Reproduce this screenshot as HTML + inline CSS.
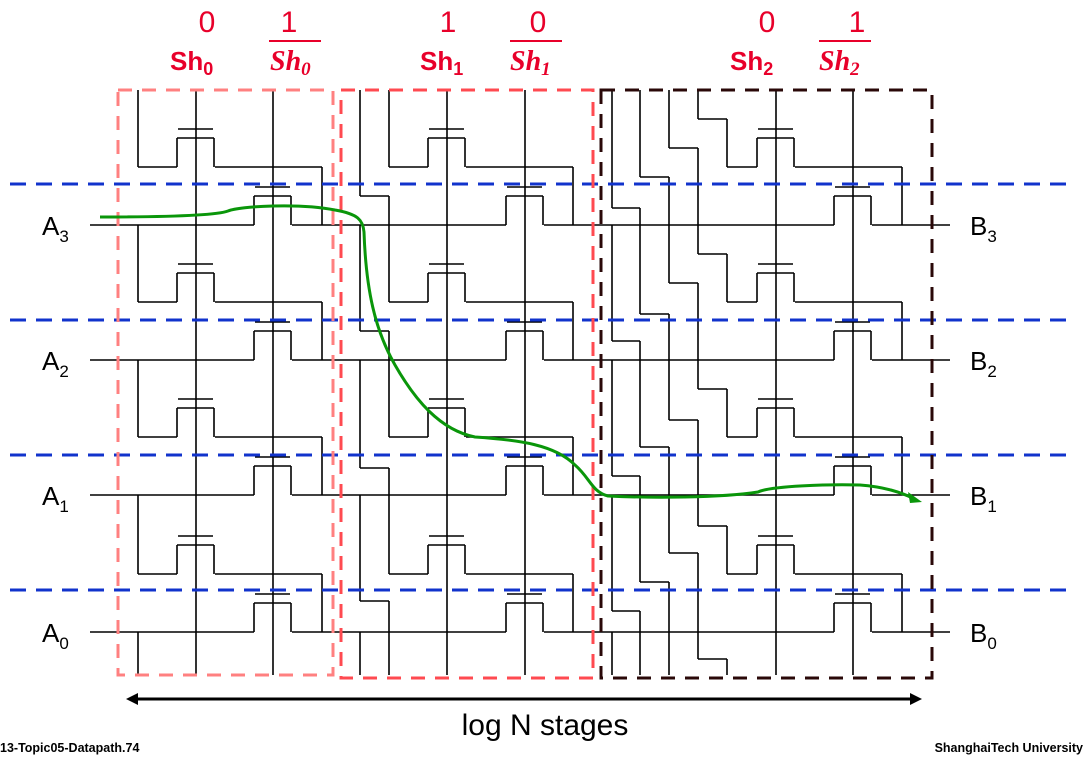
<!DOCTYPE html>
<html><head><meta charset="utf-8"><style>
html,body{margin:0;padding:0;background:#fff;}
svg{display:block;font-family:"Liberation Sans",sans-serif;}
</style></head><body>
<svg id="s" width="1091" height="765" viewBox="0 0 1091 765">
  <g id="wires" stroke="#000" stroke-width="1.6" fill="none"></g>
  <g stroke="#1133cc" stroke-width="3" stroke-dasharray="16,10">
    <line x1="10" y1="184" x2="1075" y2="184"/>
    <line x1="10" y1="320" x2="1075" y2="320"/>
    <line x1="10" y1="455" x2="1075" y2="455"/>
    <line x1="10" y1="590" x2="1075" y2="590"/>
  </g>
  <rect x="118" y="90" width="215" height="585" fill="none" stroke="#ff8080" stroke-width="3" stroke-dasharray="14,10"/>
  <rect x="341" y="90" width="252" height="588" fill="none" stroke="#ff4a50" stroke-width="3" stroke-dasharray="14,10"/>
  <rect x="601" y="90" width="331" height="588" fill="none" stroke="#2a0808" stroke-width="3" stroke-dasharray="14,10"/>
  <path d="M100,217 C160,217 215,216 228,211 C240,206 300,203 335,210 C358,214 363,220 364,232 C366,290 375,330 395,365 C415,400 440,430 475,437 C520,440 555,445 575,465 C590,478 592,492 608,496 C650,498 720,498 758,492 C770,486 830,484 860,485 C885,487 900,492 915,499" fill="none" stroke="#0a960a" stroke-width="3"/>
  <polygon points="922,502 908,492 910,503" fill="#0a960a"/>
  <g font-size="26" fill="#000">
    <text x="42" y="235">A<tspan font-size="17" dy="7">3</tspan></text>
    <text x="42" y="370">A<tspan font-size="17" dy="7">2</tspan></text>
    <text x="42" y="505">A<tspan font-size="17" dy="7">1</tspan></text>
    <text x="42" y="642">A<tspan font-size="17" dy="7">0</tspan></text>
    <text x="970" y="235">B<tspan font-size="17" dy="7">3</tspan></text>
    <text x="970" y="370">B<tspan font-size="17" dy="7">2</tspan></text>
    <text x="970" y="505">B<tspan font-size="17" dy="7">1</tspan></text>
    <text x="970" y="642">B<tspan font-size="17" dy="7">0</tspan></text>
  </g>
  <g fill="#e8002a">
    <g font-size="30" text-anchor="middle">
      <text x="207" y="32">0</text>
      <text x="289" y="32">1</text>
      <text x="448" y="32">1</text>
      <text x="538" y="32">0</text>
      <text x="767" y="32">0</text>
      <text x="857" y="32">1</text>
    </g>
    <g font-size="26" font-weight="bold">
      <text x="170" y="70">Sh<tspan font-size="18" dy="5">0</tspan></text>
      <text x="270" y="70" font-size="28" font-style="italic" font-family="Liberation Serif,serif">Sh<tspan font-size="19" dy="5">0</tspan></text>
      <text x="420" y="70">Sh<tspan font-size="18" dy="5">1</tspan></text>
      <text x="510" y="70" font-size="28" font-style="italic" font-family="Liberation Serif,serif">Sh<tspan font-size="19" dy="5">1</tspan></text>
      <text x="730" y="70">Sh<tspan font-size="18" dy="5">2</tspan></text>
      <text x="819" y="70" font-size="28" font-style="italic" font-family="Liberation Serif,serif">Sh<tspan font-size="19" dy="5">2</tspan></text>
    </g>
    <g stroke="#e8002a" stroke-width="2">
      <line x1="269" y1="41" x2="321" y2="41"/>
      <line x1="510" y1="41" x2="562" y2="41"/>
      <line x1="819" y1="41" x2="871" y2="41"/>
    </g>
  </g>
  <g>
    <line x1="132" y1="699" x2="916" y2="699" stroke="#000" stroke-width="3"/>
    <polygon points="126,699 138,693 138,705" fill="#000"/>
    <polygon points="922,699 910,693 910,705" fill="#000"/>
  </g>
  <text x="545" y="735" font-size="30" text-anchor="middle">log N stages</text>
  <text x="0" y="752" font-size="12.5" font-weight="bold">13-Topic05-Datapath.74</text>
  <text x="1083" y="752" font-size="12.5" font-weight="bold" text-anchor="end">ShanghaiTech University</text>
</svg>
<script>
var rowY = [225, 360, 495, 632];
var TOP = 90, BOT = 675;
var stages = [
  {g0:196, g1:273, drain:322, cols:[138]},
  {g0:447, g1:525, drain:573, cols:[360,389]},
  {g0:776, g1:853, drain:902, cols:[612,640,669,698,727]}
];
var W = document.getElementById('wires');
function ln(x1,y1,x2,y2){
  var l=document.createElementNS('http://www.w3.org/2000/svg','line');
  l.setAttribute('x1',x1);l.setAttribute('y1',y1);l.setAttribute('x2',x2);l.setAttribute('y2',y2);
  
  
  W.appendChild(l);
}
function trans(g,y){
  ln(g-19,y,g-19,y-29); ln(g-19,y-29,g+18,y-29); ln(g+18,y-29,g+18,y);
  ln(g-18,y-38,g+17,y-38);
}
stages.forEach(function(s){ ln(s.g0,TOP,s.g0,BOT); ln(s.g1,TOP,s.g1,BOT); });
rowY.forEach(function(y){
  var x=90;
  stages.forEach(function(s){ ln(x,y,s.g1-19,y); trans(s.g1,y); x=s.g1+19; });
  ln(x,y,950,y);
});
stages.forEach(function(s,k){
  var n=s.cols.length, last=s.cols[n-1];
  rowY.forEach(function(y,r){
    var yo=y-58;
    trans(s.g0,yo);
    ln(last,yo,s.g0-19,yo);
    ln(s.g0+19,yo,s.drain,yo);
    ln(s.drain,yo,s.drain,y);
    var shift=[1,2,4][k];
    var src = r-shift>=0 ? rowY[r-shift] : TOP;
    var yb=yo;
    if(k==0){ ln(last,Math.max(src,TOP),last,yo); return; }
    var ya=(k==1)?yo-106:yo-48;
    for(var c=n-1;c>=0;c--){
      var start = (c==0||ya<=src)?src:ya;
      ln(s.cols[c],start,s.cols[c],yb);
      if(start==src) break;
      ln(s.cols[c-1],ya,s.cols[c],ya);
      yb=ya; ya=ya-106;
    }
  });
  rowY.forEach(function(y,r){
    var shift=[1,2,4][k];
    if(r+shift<rowY.length) return;
    var yy=y, c=0, seg=(k==1?106:116);
    if(k==0){ ln(s.cols[0],yy,s.cols[0],BOT); return; }
    while(yy<BOT && c<n){
      var ye=Math.min(BOT,yy+seg);
      ln(s.cols[c],yy,s.cols[c],ye);
      if(ye<BOT && c+1<n) ln(s.cols[c],ye,s.cols[c+1],ye);
      yy=ye; c++; seg=106;
    }
  });
});
</script>
</body></html>
